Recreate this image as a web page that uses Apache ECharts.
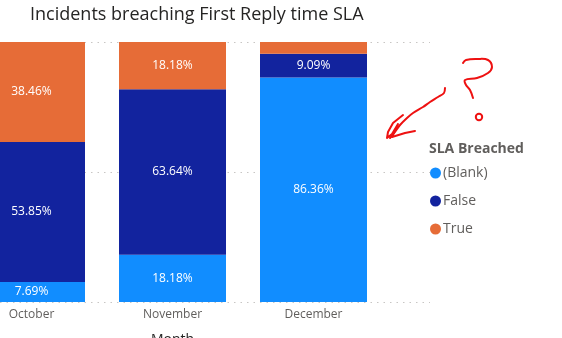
<!DOCTYPE html>
<html><head><meta charset="utf-8">
<script src="https://cdn.jsdelivr.net/npm/echarts@6/dist/echarts.min.js"></script>
<style>html,body{margin:0;padding:0;background:#fff}#c{width:562px;height:338px}</style>
</head><body><div id="c"></div>
<script>
const months = ['October', 'November', 'December'];
const blankVals = [7.69, 18.18, 86.36];
const falseVals = [53.85, 63.64, 9.09];
const trueVals = [38.46, 18.18, 4.55];
const yTicks = [0, 50, 100];

const FONT = '"Open Sans", "Noto Sans", sans-serif';
const lbl = {
  show: true, position: 'inside', color: '#ffffff', fontSize: 12, fontFamily: FONT,
  formatter: p => p.value < 6 ? '' : p.value.toFixed(2) + '%'
};
function mk(name, data, color) {
  return { name, type: 'bar', stack: 'total', data, barWidth: 107,
    xAxisIndex: 0, yAxisIndex: 0,
    itemStyle: { color }, label: lbl, emphasis: { disabled: true } };
}
const RED = { stroke: '#EE1111', lineWidth: 2, fill: null, lineJoin: 'round', lineCap: 'round' };
const chart = echarts.init(document.getElementById('c'), null, { renderer: 'canvas' });
chart.setOption({
  animation: false,
  title: [
    { text: 'Incidents breaching First Reply time SLA', left: 30, top: 6, padding: 0,
      textStyle: { fontSize: 18, fontWeight: 'normal', color: '#252423', fontFamily: FONT } },
    { text: 'SLA Breached', left: 429, top: 142, padding: 0,
      textStyle: { fontSize: 14, fontWeight: 'bold', color: '#605E5C', fontFamily: FONT } }
  ],
  legend: {
    orient: 'vertical', left: 430, top: 166, padding: 0, icon: 'circle', itemWidth: 11, itemHeight: 11,
    itemGap: 14, textStyle: { fontSize: 14, color: '#605E5C', fontFamily: FONT, padding: [0, 0, 0, -3] },
    data: ['(Blank)', 'False', 'True']
  },
  grid: [
    { left: -39, top: 42, width: 423, height: 260, outerBoundsMode: 'none', containLabel: false },
    { left: -39, top: 42, width: 469, height: 260, outerBoundsMode: 'none', containLabel: false }
  ],
  xAxis: [
    { type: 'category', gridIndex: 0, data: months,
      axisLine: { show: false }, axisTick: { show: false },
      axisLabel: { color: '#605E5C', fontSize: 12, fontFamily: FONT, margin: 7 },
      name: 'Month', nameLocation: 'middle', nameGap: 31,
      nameTextStyle: { color: '#252423', fontSize: 14, fontFamily: FONT } },
    { type: 'category', gridIndex: 1, data: months, show: false }
  ],
  yAxis: [
    { type: 'value', gridIndex: 0, min: yTicks[0], max: yTicks[2], interval: 50, show: false, splitLine: { show: false } },
    { type: 'value', gridIndex: 1, min: yTicks[0], max: yTicks[2], interval: 50,
      axisLine: { show: false }, axisTick: { show: false }, axisLabel: { show: false },
      splitLine: { show: true, lineStyle: { color: '#C8C6C4', type: [1.5, 5], width: 1 } } }
  ],
  series: [
    mk('(Blank)', blankVals, '#118DFF'),
    mk('False', falseVals, '#12239E'),
    mk('True', trueVals, '#E66C37')
  ],
  graphic: [
    { type: 'polyline', shape: { smooth: 0.3, points: [[445,88],[444,93],[438,97],[430,102],[423,107],[413,113],[407,118],[400,125],[395,132],[390,138]] }, style: RED },
    { type: 'polyline', shape: { points: [[403,115],[393,123],[388,132],[387,138],[392,134],[398,124],[392,137],[405,133],[415,131]] }, style: RED },
    { type: 'polyline', shape: { smooth: 0.4, points: [[463,63],[466,60],[477,59],[488,60],[492,67],[488,73],[477,78],[465,80],[466,85],[470,90],[473,98]] }, style: RED },
    { type: 'circle', shape: { cx: 479, cy: 117, r: 3.2 }, style: RED }
  ]
});
</script></body></html>
